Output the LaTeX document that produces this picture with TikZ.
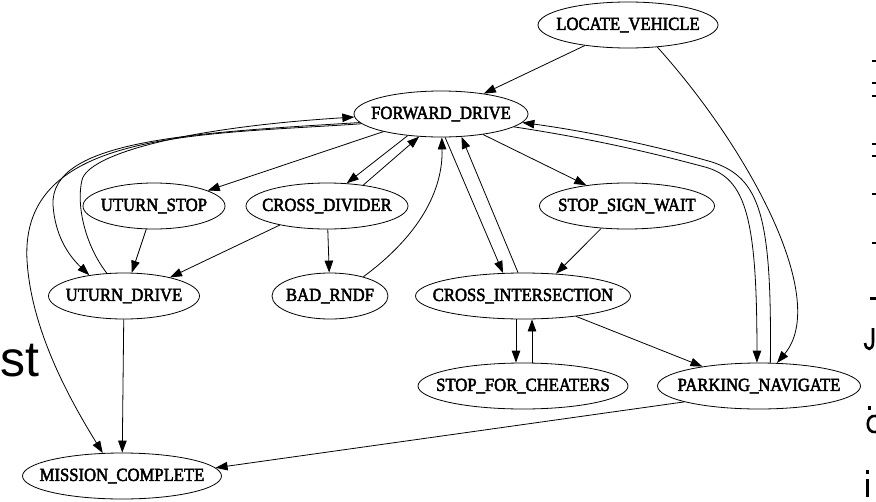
\documentclass[tikz,border=0pt]{standalone}
\usepackage{fontspec}
\setmainfont{Liberation Serif}
\newfontfamily\statefont[FakeStretch=0.9,FakeBold=2.5]{Liberation Serif}
\newfontfamily\slidefont{Liberation Sans}
\usetikzlibrary{shapes.geometric,arrows.meta}

\begin{document}
\begin{tikzpicture}[x=1pt,y=-1pt,
    state/.style={ellipse,draw,line width=0.8pt,minimum height=46pt,
      inner xsep=-20pt,inner ysep=0pt,font=\statefont\fontsize{18.5}{20}\selectfont},
    trans/.style={line width=0.8pt,-{Triangle[length=12pt,width=8.5pt]}},
    slide/.style={font=\slidefont\fontsize{#1}{#1}\selectfont,inner sep=0pt}]
                \useasboundingbox (0,0) rectangle (876,501);

                % States
                \node[state,minimum width=180pt] (lv) at (628,25) {LOCATE\_VEHICLE};
                \node[state,minimum width=174pt] (fd) at (441,114) {FORWARD\_DRIVE};
                \node[state,minimum width=142pt] (us) at (154,206) {UTURN\_STOP};
                \node[state,minimum width=162pt] (cd) at (327,206) {CROSS\_DIVIDER};
                \node[state,minimum width=175pt] (ssw) at (627,206) {STOP\_SIGN\_WAIT};
                \node[state,minimum width=151pt] (ud) at (124,296) {UTURN\_DRIVE};
                \node[state,minimum width=116pt] (br) at (330,296) {BAD\_RNDF};
                \node[state,minimum width=215pt] (ci) at (523,296) {CROSS\_INTERSECTION};
                \node[state,minimum width=210pt] (sfc) at (523,386) {STOP\_FOR\_CHEATERS};
                \node[state,minimum width=203pt] (pn) at (759,386) {PARKING\_NAVIGATE};
                \node[state,minimum width=199pt] (mc) at (122,476) {MISSION\_COMPLETE};

                % Transitions
                \draw[trans] (lv) -- (fd);
                \draw[trans] (lv.-37) .. controls (750,150) and (830,300) .. (pn.52);
                \draw[trans] (fd.197) -- (us.16);
                \draw[trans] (fd.213) -- (cd.49);
                \draw[trans] (cd.30) -- (fd.226);
                \draw[trans] (fd.-26) -- (ssw.153);
                \draw[trans] (br.30) .. controls (420,235) and (443,190) .. (fd.-88);
                \draw[trans] (fd.-80) -- (ci.131);
                \draw[trans] (ci.102) -- (fd.-48);
                \draw[trans] (ssw.221) -- (ci.34);
                \draw[trans] (cd.202) -- (ud.22);
                \draw[trans] (cd) -- (br);
                \draw[trans] (us) -- (ud);
                \draw[trans] (ud) -- (mc);
                \draw[trans] ([xshift=-7pt]ci.south) -- ([xshift=-7pt]sfc.north);
                \draw[trans] ([xshift=9pt]sfc.north) -- ([xshift=9pt]ci.south);
                \draw[trans] (ci.-21) -- (pn.161);
                \draw[trans] (pn.192) -- (mc.5);

                % Long loops
                \draw[trans] (fd.-10) .. controls (600,140) and (660,155) .. (705,167)
                    .. controls (745,178) and (757,215) .. (pn.95);
                \draw[trans] (pn.64) .. controls (772,215) and (760,178) .. (712,162)
                    .. controls (670,150) and (600,133) .. (fd.-6);
                \draw[trans] (fd.187) .. controls (200,135) and (20,130) .. (27,260)
                    .. controls (31,330) and (70,400) .. (mc.130);
                \draw[trans] (fd.186) .. controls (190,133) and (50,140) .. (53,205)
                    .. controls (55,235) and (68,255) .. (ud.149);
                \draw[trans] (ud.127) .. controls (85,245) and (76,205) .. (82,180)
                    .. controls (88,155) and (180,128) .. (fd.182);

                % Slide text at the left edge
                \node[slide=50,anchor=base west] (st) at (0,376) {st};

                % Glyph bits at the right edge
                \foreach \y in {60,82,95,143,155,193,242}
                    \fill (872,\y) rectangle (876,\y+2);
                \fill (870,297) rectangle (876,299.5);
                \draw[line width=2.6pt] (873,328) -- (873,342)
                    .. controls (873,351) and (866,351) .. (865,343);
                \fill (868,406) rectangle (871,410);
                \draw[line width=2.6pt] (876,416) .. controls (865,414) and (865,434) .. (876,432);
                \fill (866,470) rectangle (869,474);
                \fill (866,479) rectangle (869,497);
\end{tikzpicture}
\end{document}
